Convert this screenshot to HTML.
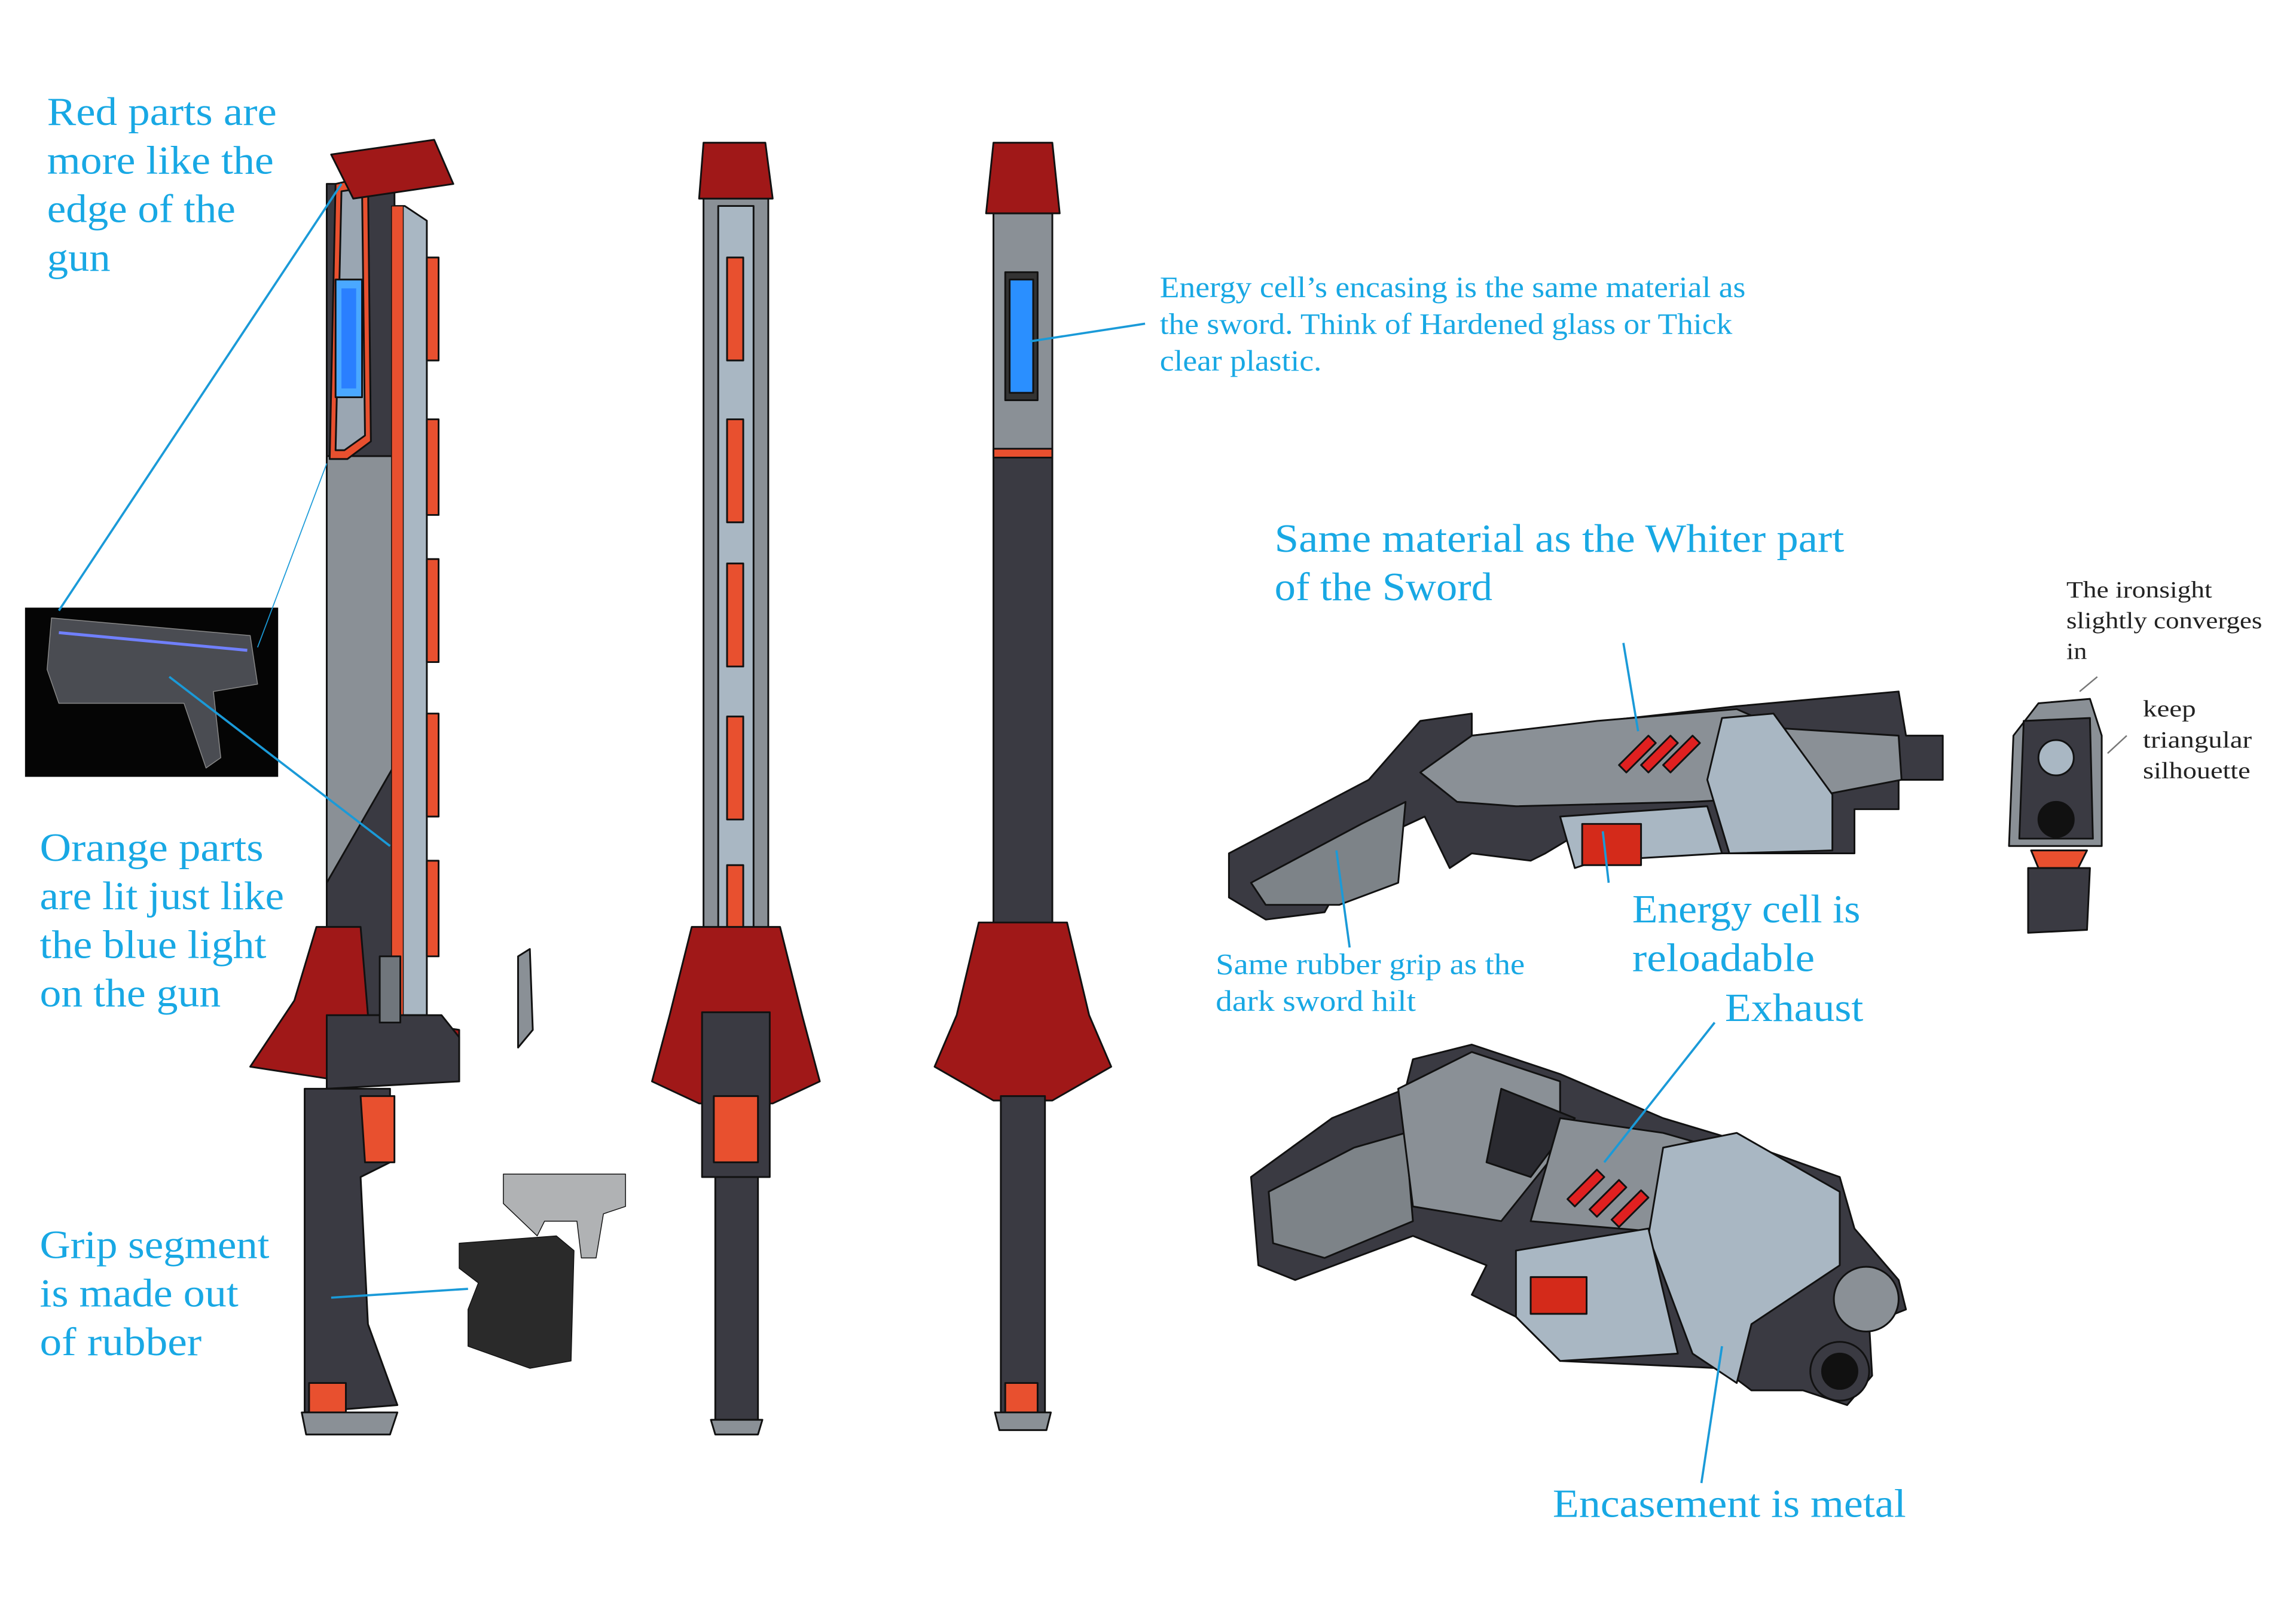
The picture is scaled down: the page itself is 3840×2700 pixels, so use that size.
<!DOCTYPE html>
<html><head><meta charset="utf-8"><style>
html,body{margin:0;padding:0;background:#fff;}
svg{display:block;}
.c{font-family:"Liberation Serif",serif;fill:#18a8e4;}
.k{font-family:"Liberation Serif",serif;fill:#222;}
</style></head><body>
<svg width="3840" height="2700" viewBox="0 0 1560 1097" preserveAspectRatio="none" xmlns="http://www.w3.org/2000/svg">
<rect width="1560" height="1097" fill="#fff"/>
<g stroke="#111" stroke-width="1.2" stroke-linejoin="round">
<!-- Sword 1 -->
<polygon points="222,690 222,125 268,125 270,690" fill="#3a3a42"/>
<polygon points="275,140 290,150 290,690 270,690 268,140" fill="#a9b7c3"/>
<polygon points="222,310 222,600 268,520 268,310" fill="#8a9096"/>
<polygon points="266,140 274,140 274,690 266,690" fill="#e8502f" stroke-width="0.6"/>
<rect x="290" y="175" width="8" height="70" fill="#e8502f"/>
<rect x="290" y="285" width="8" height="65" fill="#e8502f"/>
<rect x="290" y="380" width="8" height="70" fill="#e8502f"/>
<rect x="290" y="485" width="8" height="70" fill="#e8502f"/>
<rect x="290" y="585" width="8" height="65" fill="#e8502f"/>
<polygon points="228,125 250,120 252,300 236,312 224,312" fill="#e8502f"/>
<polygon points="232,130 246,128 248,296 234,306 228,306" fill="#9aa6b2"/>
<rect x="228" y="190" width="18" height="80" fill="#4aa8ff"/>
<rect x="232" y="196" width="10" height="68" fill="#2a7fff" stroke="none"/>
<polygon points="225,105 295,95 308,125 240,135" fill="#a01818"/>
<polygon points="215,630 245,630 250,690 312,700 312,735 235,735 170,725 200,680" fill="#a01818"/>
<polygon points="222,690 300,690 312,705 312,735 222,740" fill="#3a3a42"/>
<rect x="258" y="650" width="14" height="45" fill="#70767c"/>
<polygon points="207,740 265,740 265,790 245,800 250,900 270,955 207,960" fill="#3a3a42"/>
<polygon points="245,745 268,745 268,790 248,790" fill="#e8502f"/>
<rect x="210" y="940" width="25" height="20" fill="#e8502f"/>
<polygon points="205,960 270,960 265,975 208,975" fill="#8a9096"/>
<polygon points="352,650 360,645 362,700 352,712" fill="#8a9096"/>
<!-- Sword 2 -->
<polygon points="478,130 522,130 522,690 478,690" fill="#8a9096"/>
<rect x="488" y="140" width="24" height="545" fill="#a9b7c3"/>
<rect x="494" y="175" width="11" height="70" fill="#e8502f"/>
<rect x="494" y="285" width="11" height="70" fill="#e8502f"/>
<rect x="494" y="383" width="11" height="70" fill="#e8502f"/>
<rect x="494" y="487" width="11" height="70" fill="#e8502f"/>
<rect x="494" y="588" width="11" height="67" fill="#e8502f"/>
<polygon points="478,97 520,97 525,135 475,135" fill="#a01818"/>
<polygon points="470,630 530,630 545,690 557,735 525,750 475,750 443,735 455,690" fill="#a01818"/>
<rect x="477" y="688" width="46" height="112" fill="#3a3a42"/>
<rect x="485" y="745" width="30" height="45" fill="#e8502f"/>
<rect x="486" y="800" width="29" height="165" fill="#3a3a42"/>
<polygon points="483,965 518,965 515,975 486,975" fill="#8a9096"/>
<!-- Sword 3 -->
<rect x="675" y="145" width="40" height="165" fill="#8a9096"/>
<rect x="683" y="185" width="22" height="87" fill="#333"/>
<rect x="686" y="190" width="16" height="77" fill="#2a8fff"/>
<rect x="675" y="305" width="40" height="6" fill="#e8502f"/>
<rect x="675" y="311" width="40" height="320" fill="#3a3a42"/>
<polygon points="675,97 715,97 720,145 670,145" fill="#a01818"/>
<polygon points="665,627 725,627 740,690 755,725 715,748 675,748 635,725 650,690" fill="#a01818"/>
<rect x="680" y="745" width="30" height="215" fill="#3a3a42"/>
<rect x="683" y="940" width="22" height="20" fill="#e8502f"/>
<polygon points="676,960 714,960 711,972 679,972" fill="#8a9096"/>
<!-- pistol photo & grip sleeve -->
<polygon points="342,798 425,798 425,820 410,825 405,855 395,855 392,830 370,830 365,840 342,818" fill="#b0b2b4" stroke-width="0.6"/>
<polygon points="312,845 378,840 390,850 388,925 360,930 318,915 318,890 325,872 312,862" fill="#2a2a2a" stroke-width="0.6"/>
<!-- Gun top -->
<polygon points="835,580 930,530 965,490 1000,485 1000,500 1090,490 1180,480 1290,470 1295,500 1320,500 1320,530 1290,530 1290,550 1260,550 1260,580 1170,580 1150,560 1075,565 1050,580 1040,585 1000,580 985,590 968,555 925,575 900,620 860,625 835,610" fill="#3a3a42"/>
<polygon points="850,600 925,560 955,545 950,600 910,615 860,615" fill="#7d8388"/>
<polygon points="1000,500 1085,490 1180,482 1210,495 1290,500 1292,530 1240,540 1150,545 1030,548 990,545 965,525" fill="#8a9096"/>
<polygon points="1170,488 1205,485 1245,540 1245,578 1175,580 1160,530" fill="#a9b7c3"/>
<polygon points="1060,555 1160,548 1170,580 1085,585 1070,590" fill="#a9b7c3"/>
<rect x="1075" y="560" width="40" height="28" fill="#d42a1a"/>
<polygon points="1100,520 1120,500 1125,505 1105,525" fill="#e02020"/>
<polygon points="1115,520 1135,500 1140,505 1120,525" fill="#e02020"/>
<polygon points="1130,520 1150,500 1155,505 1135,525" fill="#e02020"/>
<!-- Gun bottom -->
<polygon points="850,800 905,760 955,740 960,720 1000,710 1060,730 1130,760 1180,775 1250,800 1260,835 1290,870 1295,890 1270,900 1272,935 1255,955 1225,945 1190,945 1170,930 1060,925 1030,895 1000,880 1010,860 960,840 880,870 855,860" fill="#3a3a42"/>
<polygon points="862,810 920,780 955,770 960,830 900,855 865,845" fill="#7d8388"/>
<polygon points="950,740 1000,715 1060,735 1060,780 1020,830 960,820" fill="#8a9096"/>
<polygon points="1020,740 1070,760 1040,800 1010,790" fill="#2a2a30"/>
<polygon points="1060,760 1130,770 1200,790 1160,840 1040,830" fill="#8a9096"/>
<polygon points="1130,780 1180,770 1250,810 1250,860 1190,900 1180,940 1150,920 1120,840" fill="#a9b7c3"/>
<polygon points="1030,850 1120,835 1140,920 1060,925 1030,895" fill="#a9b7c3"/>
<rect x="1040" y="868" width="38" height="25" fill="#d42a1a"/>
<polygon points="1065,815 1085,795 1090,800 1070,820" fill="#e02020"/>
<polygon points="1080,822 1100,802 1105,807 1085,827" fill="#e02020"/>
<polygon points="1095,829 1115,809 1120,814 1100,834" fill="#e02020"/>
<circle cx="1268" cy="883" r="22" fill="#8a9096"/>
<circle cx="1250" cy="932" r="20" fill="#3a3a42"/>
<circle cx="1250" cy="932" r="12" fill="#111"/>
<!-- Front view -->
<polygon points="1385,478 1420,475 1428,500 1428,575 1365,575 1368,500" fill="#8a9096"/>
<polygon points="1375,490 1420,488 1422,570 1372,570" fill="#3a3a42"/>
<circle cx="1397" cy="515" r="12" fill="#a9b7c3"/>
<circle cx="1397" cy="557" r="12" fill="#111"/>
<polygon points="1380,578 1418,578 1412,590 1385,590" fill="#e8502f"/>
<polygon points="1378,590 1420,590 1418,632 1378,634" fill="#3a3a42"/>
<!-- photo -->
<rect x="17" y="413" width="172" height="115" fill="#050505" stroke="none"/>
<polygon points="35,420 170,432 175,465 145,470 150,515 140,522 125,478 40,478 32,455" fill="#4a4c52" stroke="#888" stroke-width="0.6"/>
<line x1="40" y1="430" x2="168" y2="442" stroke="#7080ff" stroke-width="2"/>
</g>
<!-- leader lines -->
<g stroke="#1a9ad8" stroke-width="1.5" fill="none">
<line x1="40" y1="415" x2="232" y2="125"/>
<line x1="175" y1="440" x2="222" y2="315" stroke-width="0.7"/>
<line x1="115" y1="460" x2="265" y2="575"/>
<line x1="225" y1="882" x2="318" y2="876"/>
<line x1="700" y1="232" x2="778" y2="220"/>
<line x1="1103" y1="437" x2="1113" y2="497"/>
<line x1="908" y1="578" x2="917" y2="644"/>
<line x1="1093" y1="600" x2="1089" y2="565"/>
<line x1="1165" y1="695" x2="1090" y2="790"/>
<line x1="1170" y1="915" x2="1156" y2="1008"/>
</g>
<g stroke="#777" stroke-width="1"><line x1="1425" y1="460" x2="1413" y2="470"/><line x1="1445" y1="500" x2="1432" y2="512"/></g>
<!-- text -->
<g class="c" font-size="27">
<text x="32" y="85" textLength="156" lengthAdjust="spacingAndGlyphs">Red parts are</text>
<text x="32" y="118" textLength="154" lengthAdjust="spacingAndGlyphs">more like the</text>
<text x="32" y="151" textLength="128" lengthAdjust="spacingAndGlyphs">edge of the</text>
<text x="32" y="184" textLength="43" lengthAdjust="spacingAndGlyphs">gun</text>
<text x="27" y="585" textLength="152" lengthAdjust="spacingAndGlyphs">Orange parts</text>
<text x="27" y="618" textLength="166" lengthAdjust="spacingAndGlyphs">are lit just like</text>
<text x="27" y="651" textLength="154" lengthAdjust="spacingAndGlyphs">the blue light</text>
<text x="27" y="684" textLength="123" lengthAdjust="spacingAndGlyphs">on the gun</text>
<text x="27" y="855" textLength="156" lengthAdjust="spacingAndGlyphs">Grip segment</text>
<text x="27" y="888" textLength="135" lengthAdjust="spacingAndGlyphs">is made out</text>
<text x="27" y="921" textLength="110" lengthAdjust="spacingAndGlyphs">of rubber</text>
<text x="866" y="375" textLength="387" lengthAdjust="spacingAndGlyphs">Same material as the Whiter part</text>
<text x="866" y="408" textLength="148" lengthAdjust="spacingAndGlyphs">of the Sword</text>
<text x="1109" y="627" textLength="155" lengthAdjust="spacingAndGlyphs">Energy cell is</text>
<text x="1109" y="660" textLength="124" lengthAdjust="spacingAndGlyphs">reloadable</text>
<text x="1172" y="694" textLength="94" lengthAdjust="spacingAndGlyphs">Exhaust</text>
<text x="1055" y="1031" textLength="240" lengthAdjust="spacingAndGlyphs">Encasement is metal</text>
</g>
<g class="c" font-size="20">
<text x="788" y="202" textLength="398" lengthAdjust="spacingAndGlyphs">Energy cell’s encasing is the same material as</text>
<text x="788" y="227" textLength="389" lengthAdjust="spacingAndGlyphs">the sword. Think of Hardened glass or Thick</text>
<text x="788" y="252" textLength="110" lengthAdjust="spacingAndGlyphs">clear plastic.</text>
<text x="826" y="662" textLength="210" lengthAdjust="spacingAndGlyphs">Same rubber grip as the</text>
<text x="826" y="687" textLength="136" lengthAdjust="spacingAndGlyphs">dark sword hilt</text>
</g>
<g class="k" font-size="16">
<text x="1404" y="406" textLength="99" lengthAdjust="spacingAndGlyphs">The ironsight</text>
<text x="1404" y="427" textLength="133" lengthAdjust="spacingAndGlyphs">slightly converges</text>
<text x="1404" y="448" textLength="14" lengthAdjust="spacingAndGlyphs">in</text>
<text x="1456" y="487" textLength="36" lengthAdjust="spacingAndGlyphs">keep</text>
<text x="1456" y="508" textLength="74" lengthAdjust="spacingAndGlyphs">triangular</text>
<text x="1456" y="529" textLength="73" lengthAdjust="spacingAndGlyphs">silhouette</text>
</g>
</svg>
</body></html>
